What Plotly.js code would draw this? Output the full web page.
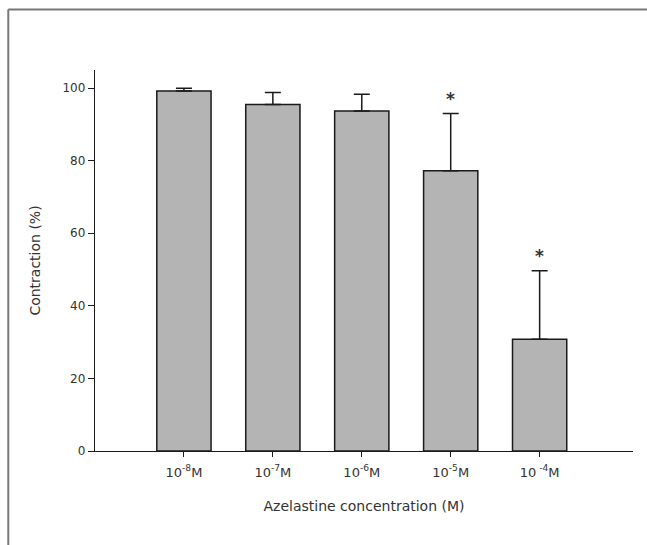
<!DOCTYPE html>
<html>
<head>
<meta charset="utf-8">
<script src="https://cdn.plot.ly/plotly-3.0.1.min.js"></script>
<style>html,body{margin:0;padding:0;background:#fff;}#chart{width:647px;height:545px;}</style>
</head>
<body>
<div id="chart"></div>
<script>
var categories = ['10<sup>-8</sup>M', '10<sup>-7</sup>M', '10<sup>-6</sup>M', '10<sup>-5</sup>M', '10<sup> -4</sup>M'];
var contraction = [99.2, 95.5, 93.7, 77.2, 30.8];
var errorUp = [0.8, 3.3, 4.6, 15.8, 18.9];
var significance = ['', '', '', '*', '*'];

var idx = categories.map(function(_, i){ return i; });
var FONT = 'DejaVu Sans, Verdana, sans-serif';

var trace = {
  type: 'bar',
  x: idx,
  y: contraction,
  width: 0.61,
  marker: {color: '#b4b4b4', line: {color: '#1a1a1a', width: 1.5}},
  error_y: {type: 'data', symmetric: false, array: errorUp, arrayminus: errorUp.map(function(){return 0;}),
            color: '#1a1a1a', thickness: 1.5, width: 8},
  hoverinfo: 'skip'
};

var annotations = [];
significance.forEach(function(s, i){
  if (s) annotations.push({x: idx[i], y: contraction[i] + errorUp[i], xref: 'x', yref: 'y', text: '<b>' + s + '</b>',
    showarrow: false, yshift: 15, font: {family: FONT, size: 17, color: '#333'}});
});

var layout = {
  width: 647, height: 545,
  margin: {l: 95, r: 14, t: 70, b: 94},
  paper_bgcolor: '#fff', plot_bgcolor: '#fff',
  showlegend: false,
  xaxis: {
    range: [-1, 5.05], tickmode: 'array', tickvals: idx, ticktext: categories,
    showline: true, linecolor: '#1a1a1a', linewidth: 1.3, ticks: 'outside', ticklen: 5, tickcolor: '#1a1a1a',
    showgrid: false, zeroline: false, ticklabelstandoff: 4,
    tickfont: {family: FONT, size: 13, color: '#333'},
    title: {text: 'Azelastine concentration (M)', standoff: 22, font: {family: FONT, size: 14, color: '#333'}}
  },
  yaxis: {
    range: [0, 105], tickvals: [0, 20, 40, 60, 80, 100],
    showline: true, linecolor: '#1a1a1a', linewidth: 1.3, ticks: 'outside', ticklen: 6, tickcolor: '#1a1a1a',
    showgrid: false, zeroline: false,
    tickfont: {family: FONT, size: 12, color: '#333'},
    title: {text: 'Contraction (%)', standoff: 18, font: {family: FONT, size: 14, color: '#333'}}
  },
  annotations: annotations,
  shapes: [
    {type: 'line', xref: 'paper', yref: 'paper', x0: -0.1612, x1: 1.03, y0: 1.1588, y1: 1.1588, line: {color: '#777', width: 2}},
    {type: 'line', xref: 'paper', yref: 'paper', x0: -0.1612, x1: -0.1612, y0: 1.1588, y1: -0.26, line: {color: '#777', width: 2}}
  ]
};

Plotly.newPlot('chart', [trace], layout, {staticPlot: true, displayModeBar: false});
</script>
</body>
</html>
